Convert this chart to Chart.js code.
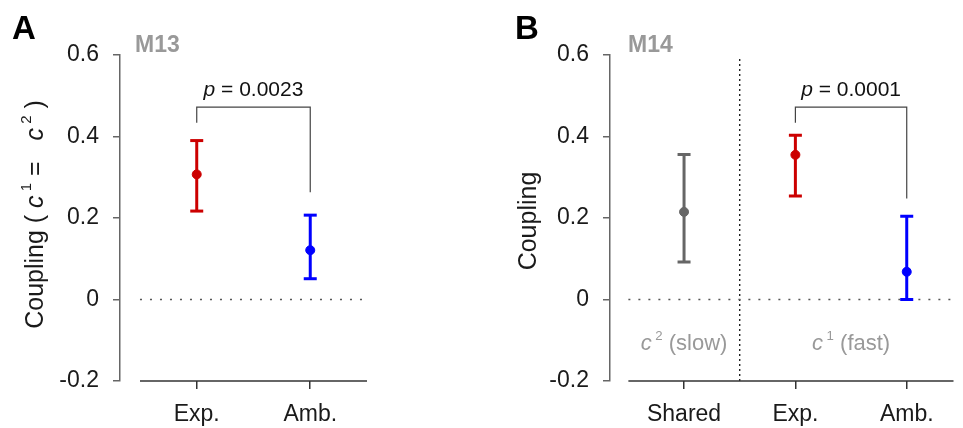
<!DOCTYPE html>
<html>
<head>
<meta charset="utf-8">
<script src="https://cdn.jsdelivr.net/npm/chart.js@4.4.1/dist/chart.umd.min.js"></script>
<style>
  body { margin: 0; background: #fff; }
  #wrap { position: relative; width: 963px; height: 428px; }
  .panel { position: absolute; top: 0; height: 428px; }
</style>
</head>
<body>
<div id="wrap">
  <div class="panel" style="left:0;width:481px"><canvas id="chartA"></canvas></div>
  <div class="panel" style="left:481px;width:482px"><canvas id="chartB"></canvas></div>
</div>
<script>
const FONT = "'Liberation Sans', Arial, Helvetica, sans-serif";

// ─── data ────────────────────────────────────────────────────────────────
const yTicks      = [-0.2, 0, 0.2, 0.4, 0.6];
const yTickLabels = ['-0.2', '0', '0.2', '0.4', '0.6'];

// Panel A (M13)
const catsA    = ['Exp.', 'Amb.'];
const meanA    = [0.307, 0.121];
const lowA     = [0.217, 0.051];
const highA    = [0.390, 0.207];
const bracketA = [0.434, 0.472, 0.263];   // left leg end, bar level, right leg end
const pValueA  = '0.0023';

// Panel B (M14)
const catsB    = ['Shared', 'Exp.', 'Amb.'];
const meanB    = [0.215, 0.355, 0.068];
const lowB     = [0.092, 0.254, 0.000];
const highB    = [0.356, 0.403, 0.204];
const bracketB = [0.434, 0.472, 0.248];
const pValueB  = '0.0001';

Chart.defaults.font.family = FONT;

// draw a row of text pieces (italic / superscript) centred on x
function drawRich(ctx, parts, x, y, size, color) {
  const fontOf = p => `${p.it ? 'italic ' : ''}${p.sup ? size * 0.6 : size}px ${FONT}`;
  let total = 0;
  parts.forEach(p => { ctx.font = fontOf(p); total += ctx.measureText(p.t).width; });
  let cx = x - total / 2;
  ctx.fillStyle = color;
  ctx.textAlign = 'left';
  ctx.textBaseline = 'middle';
  parts.forEach(p => {
    ctx.font = fontOf(p);
    ctx.fillText(p.t, cx, p.sup ? y - size * 0.38 : y);
    cx += ctx.measureText(p.t).width;
  });
}

const textPlugin = {
  id: 'panelText',
  afterDraw(chart, args, opts) {
    const { ctx } = chart;
    const x = chart.scales.x, y = chart.scales.y;
    ctx.save();
    ctx.textAlign = 'left';
    ctx.textBaseline = 'alphabetic';
    ctx.fillStyle = '#000';
    ctx.font = `bold 33px ${FONT}`;
    ctx.fillText(opts.letter, opts.letterX, 39);
    ctx.fillStyle = '#999';
    ctx.font = `bold 23px ${FONT}`;
    ctx.fillText(opts.model, opts.modelX, 52);

    // p-value above the bracket
    const px = (x.getPixelForValue(opts.bx) + x.getPixelForValue(opts.bx + 1)) / 2;
    const py = y.getPixelForValue(opts.bracket[1]) - 17;
    drawRich(ctx, [{ t: 'p', it: true }, { t: ' = ' + opts.p }], px, py, 21, '#111');

    (opts.regions || []).forEach(r =>
      drawRich(ctx, r.parts, x.getPixelForValue(r.x), y.getPixelForValue(r.y), 22, '#999'));

    // rotated y title
    ctx.translate(opts.titleX, opts.titleY);
    ctx.rotate(-Math.PI / 2);
    drawRich(ctx, opts.title, 0, 0, 25, '#1a1a1a');
    ctx.restore();
  }
};

function buildDatasets(means, lows, highs, colors, bracket, bx, xMax) {
  const sets = [];
  sets.push({
    data: means.map((v, i) => ({ x: i + 1, y: v })),
    showLine: false,
    pointRadius: 4.5,
    pointBackgroundColor: colors,
    pointBorderColor: colors,
    pointBorderWidth: 1
  });
  means.forEach((_, i) => sets.push({
    data: [{ x: i + 1, y: lows[i] }, { x: i + 1, y: highs[i] }],
    showLine: true,
    borderColor: colors[i],
    borderWidth: 3,
    pointStyle: 'line',
    pointRadius: 6.5,
    pointBorderWidth: 3,
    pointBorderColor: colors[i]
  }));
  sets.push({
    data: [{ x: bx, y: bracket[0] }, { x: bx, y: bracket[1] },
           { x: bx + 1, y: bracket[1] }, { x: bx + 1, y: bracket[2] }],
    showLine: true, borderColor: '#444', borderWidth: 1.2, pointRadius: 0
  });
  // dotted zero line
  sets.push({
    data: [{ x: 0.5, y: 0 }, { x: xMax, y: 0 }],
    showLine: true, borderColor: '#555', borderWidth: 1.6, borderDash: [2, 8], pointRadius: 0
  });
  // x axis line (starts away from the y axis)
  sets.push({
    data: [{ x: 0.5, y: -0.2 }, { x: xMax, y: -0.2 }],
    showLine: true, borderColor: '#333', borderWidth: 1.5, pointRadius: 0, clip: false
  });
  return sets;
}

function makeChart(id, cfg) {
  const datasets = buildDatasets(cfg.means, cfg.lows, cfg.highs, cfg.colors, cfg.bracket, cfg.bx, cfg.xMax);
  if (cfg.divider != null) {
    datasets.push({
      data: [{ x: cfg.divider, y: -0.2 }, { x: cfg.divider, y: 0.592 }],
      showLine: true, borderColor: '#111', borderWidth: 1.3, borderDash: [2, 3], pointRadius: 0
    });
  }
  return new Chart(document.getElementById(id), {
    type: 'scatter',
    data: { datasets },
    plugins: [textPlugin],
    options: {
      responsive: true,
      maintainAspectRatio: false,
      animation: false,
      events: [],
      layout: { padding: { top: 55, right: cfg.padRight, left: 0, bottom: 0 } },
      plugins: {
        legend: { display: false },
        tooltip: { enabled: false },
        panelText: cfg.text
      },
      scales: {
        x: {
          type: 'linear', min: cfg.xMin, max: cfg.xMax,
          afterBuildTicks: s => { s.ticks = cfg.cats.map((_, i) => ({ value: i + 1 })); },
          afterFit: s => { s.height = 47; },
          ticks: {
            callback: v => cfg.cats[Math.round(v) - 1],
            font: { size: 23 }, color: '#1a1a1a', padding: 12, maxRotation: 0, autoSkip: false
          },
          grid: { drawOnChartArea: false, drawTicks: true, tickLength: 8, color: '#333', lineWidth: 1.5 },
          border: { display: false }
        },
        y: {
          min: -0.2, max: 0.6,
          afterBuildTicks: s => { s.ticks = yTicks.map(v => ({ value: v })); },
          afterFit: s => { s.width = cfg.yWidth; },
          ticks: {
            callback: (v, i) => yTickLabels[i],
            font: { size: 23 }, color: '#1a1a1a', padding: 14
          },
          grid: { drawOnChartArea: false, drawTicks: true, tickLength: 7, color: '#666', lineWidth: 1.5 },
          border: { display: true, color: '#666', width: 1.5 }
        }
      }
    }
  });
}

makeChart('chartA', {
  cats: catsA, means: meanA, lows: lowA, highs: highA,
  colors: ['#cc0000', '#0000ff'],
  bracket: bracketA, bx: 1,
  xMin: 0.324, xMax: 2.5, yWidth: 120, padRight: 114,
  text: {
    letter: 'A', letterX: 12, model: 'M13', modelX: 135,
    p: pValueA, bx: 1, bracket: bracketA,
    titleX: 36, titleY: 214.5,
    title: [{ t: 'Coupling ( ' }, { t: 'c', it: true }, { t: ' 1', sup: true }, { t: ' =   ' },
            { t: 'c', it: true }, { t: ' 2', sup: true }, { t: ' )' }]
  }
});

makeChart('chartB', {
  cats: catsB, means: meanB, lows: lowB, highs: highB,
  colors: ['#666666', '#cc0000', '#0000ff'],
  bracket: bracketB, bx: 2, divider: 1.5,
  xMin: 0.335, xMax: 3.42, yWidth: 129, padRight: 0,
  text: {
    letter: 'B', letterX: 34, model: 'M14', modelX: 147,
    p: pValueB, bx: 2, bracket: bracketB,
    titleX: 48.5, titleY: 221,
    title: [{ t: 'Coupling' }],
    regions: [
      { x: 1, y: -0.11, parts: [{ t: 'c', it: true }, { t: ' 2', sup: true }, { t: ' (slow)' }] },
      { x: 2.5, y: -0.11, parts: [{ t: 'c', it: true }, { t: ' 1', sup: true }, { t: ' (fast)' }] }
    ]
  }
});
</script>
</body>
</html>
